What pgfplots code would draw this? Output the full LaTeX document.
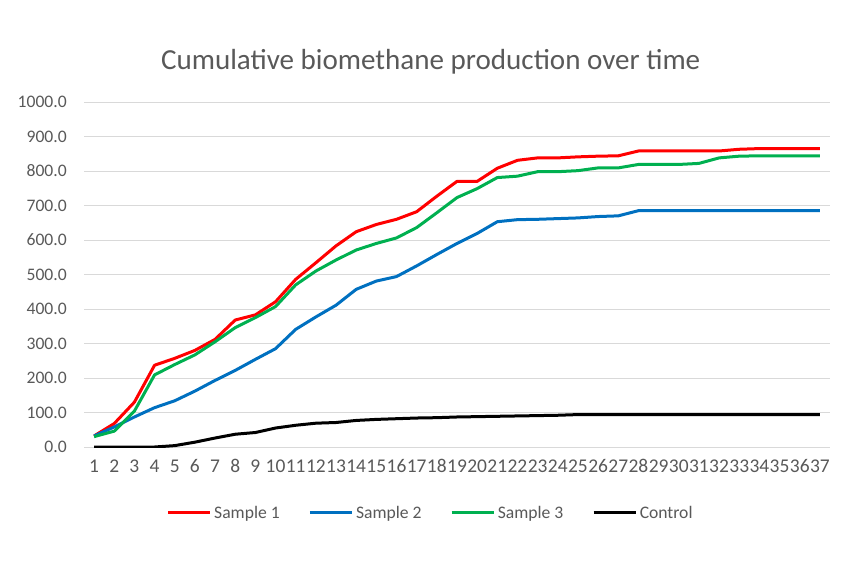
\documentclass[border=0pt]{standalone}
\usepackage{pgfplots}
\pgfplotsset{compat=1.18}
\usepackage{pgfplotstable}
\usepackage{fontspec}
\setmainfont{Carlito}
\definecolor{txt}{HTML}{595959}
\definecolor{gridc}{HTML}{D9D9D9}
\definecolor{sred}{HTML}{FF0000}
\definecolor{sblue}{HTML}{0070C0}
\definecolor{sgreen}{HTML}{00B050}
\pgfplotstableread{
x s1 s2 s3 c
1 32 32 30 0
2 68 58 46 0
3 130 87 104 0
4 237 114 209 0
5 257 134 239 4
6 280 162 267 14
7 312 193 305 26
8 368 222 346 37
9 383 254 375 42
10 421 285 407 55
11 486 341 470 63
12 534 377 510 69
13 583 411 542 71
14 624 457 571 77
15 645 481 590 80
16 660 494 606 82
17 682 525 636 84
18 727 558 679 85
19 770 590 723 87
20 770 619 749 88
21 808 653 781 89
22 831 659 785 90
23 838 660 798 91
24 838 662 798 92
25 841 664 801 94
26 843 668 809 94
27 844 670 809 94
28 858 685 819 94
29 858 685 819 94
30 858 685 819 94
31 858 685 822 94
32 858 685 838 94
33 863 685 843 94
34 865 685 844 94
35 865 685 844 94
36 865 685 844 94
37 865 685 844 94
}\datatable
\begin{document}
\begin{tikzpicture}
\path[use as bounding box] (0pt,0pt) rectangle (640.5pt,426.75pt);
\node[text=txt, font=\fontsize{21.8}{25}\selectfont] at (323pt,380.25pt) {Cumulative biomethane production over time};
\begin{axis}[
  at={(63pt,91.5pt)}, anchor=south west,
  scale only axis, width=559.5pt, height=258.75pt,
  xmin=0.5, xmax=37.5, ymin=0, ymax=1000,
  xtick={1,...,37},
  ytick={0,100,...,1000},
  xmajorgrids=false, ymajorgrids=true, major grid style={gridc, line width=0.75pt},
  axis line style={draw=none}, tick style={draw=none},
  /pgf/number format/assume math mode=true,
  y tick label style={/pgf/number format/fixed, /pgf/number format/fixed zerofill, /pgf/number format/precision=1, /pgf/number format/1000 sep={}},
  yticklabel style={anchor=east, inner sep=0pt, xshift=-12.75pt, font=\fontsize{13.2}{15}\selectfont},
  xticklabel style={anchor=base, inner sep=0pt, yshift=-19pt, font=\fontsize{14.6}{16}\selectfont},
  ticklabel style={text=txt},
  every axis plot/.append style={line width=2.25pt, line join=round},
  legend style={draw=none, at={(0.465,-0.191)}, anchor=center, legend columns=4,
    font=\fontsize{13.2}{15}\selectfont, text=txt,
    /tikz/every even column/.append style={column sep=19.5pt},
    nodes={inner sep=2pt}},
  legend image code/.code={\draw[#1] (0pt,0pt) -- (31.5pt,0pt);},
]
\addplot[sred] table[x=x,y=s1] {\datatable};
\addplot[sblue] table[x=x,y=s2] {\datatable};
\addplot[sgreen] table[x=x,y=s3] {\datatable};
\addplot[black] table[x=x,y=c] {\datatable};
\legend{Sample 1, Sample 2, Sample 3, Control}
\end{axis}
\end{tikzpicture}
\end{document}
